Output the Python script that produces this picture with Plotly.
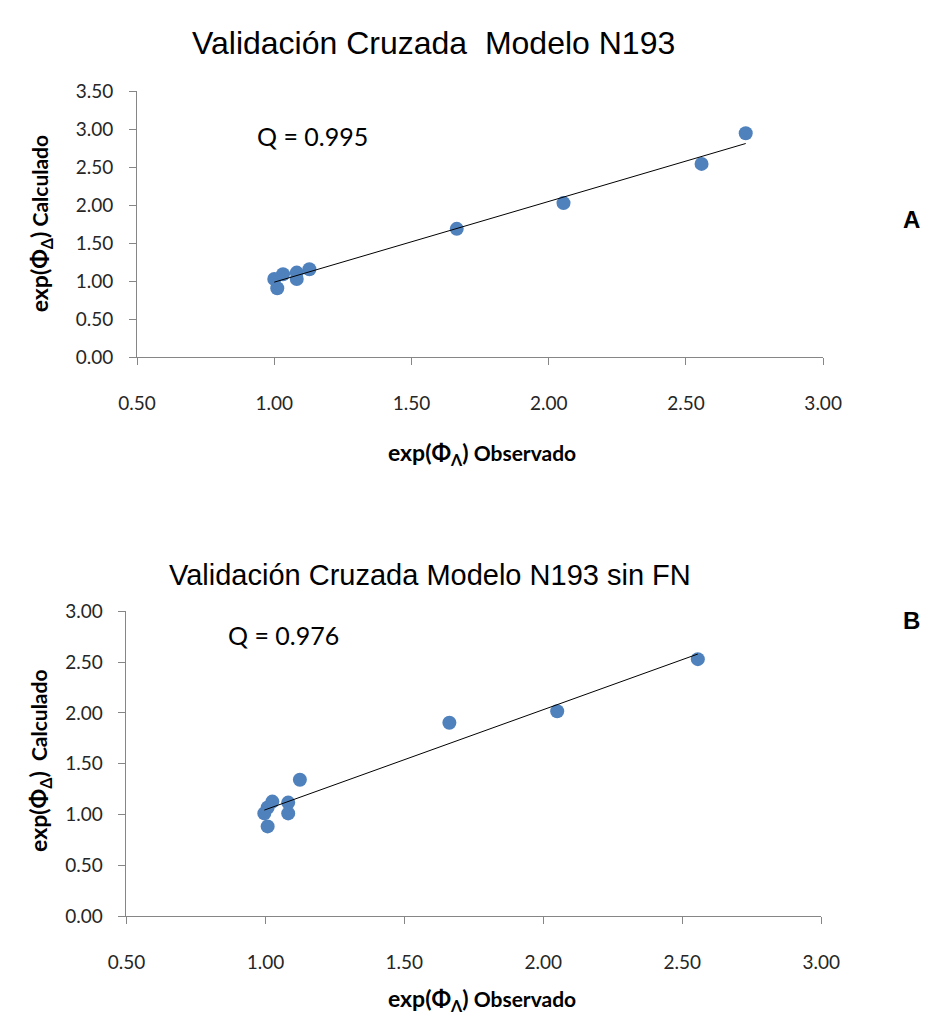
import numpy as np
import plotly.graph_objects as go

# ---- data ----
obs_A = [2.718, 2.557, 2.054, 1.665, 1.128, 1.082, 1.082, 1.032, 1.000, 1.011]
calc_A = [2.947, 2.543, 2.027, 1.688, 1.156, 1.112, 1.027, 1.091, 1.027, 0.906]
obs_B = [2.556, 2.050, 1.662, 1.124, 1.082, 1.082, 1.025, 1.008, 0.996, 1.008]
calc_B = [2.529, 2.016, 1.904, 1.343, 1.118, 1.012, 1.128, 1.070, 1.012, 0.884]
q_A = "Q = 0.995"
q_B = "Q = 0.976"
title_A = "Validación Cruzada\u00a0 Modelo N193"
title_B = "Validación Cruzada Modelo N193 sin FN"
ticks_x = [0.5, 1.0, 1.5, 2.0, 2.5, 3.0]

W, H = 940, 1026
BLUE = "#4F81BD"
TICKFONT = dict(family="Lato, 'Noto Sans', sans-serif", size=19, color="#262626")

fig = go.Figure()

def add_panel(obs, calc, xa, ya):
    fig.add_trace(go.Scatter(x=obs, y=calc, mode="markers", xaxis=xa, yaxis=ya,
                             marker=dict(color=BLUE, size=14, line=dict(width=0)),
                             showlegend=False, hoverinfo="skip"))
    m, b = np.polyfit(obs, calc, 1)
    xs = np.array([min(obs), max(obs)])
    fig.add_trace(go.Scatter(x=xs, y=m * xs + b, mode="lines", xaxis=xa, yaxis=ya,
                             line=dict(color="black", width=1),
                             showlegend=False, hoverinfo="skip"))

add_panel(obs_A, calc_A, "x", "y")
add_panel(obs_B, calc_B, "x2", "y2")

def px_x(p):
    return p / W

def px_y(p):
    return 1 - p / H

axis_common = dict(showline=True, linecolor="#868686", linewidth=1, showgrid=False,
                   zeroline=False, ticks="outside", tickcolor="#868686", ticklen=7,
                   tickformat=".2f", tickfont=TICKFONT, mirror=False)

fig.update_layout(
    width=W, height=H, margin=dict(l=0, r=0, t=0, b=0),
    paper_bgcolor="white", plot_bgcolor="white",
    xaxis=dict(domain=[px_x(123), px_x(838)], range=[0.5, 3.0], tickvals=ticks_x,
               anchor="y", ticklabelstandoff=22, **axis_common),
    yaxis=dict(domain=[px_y(353), px_y(81)], range=[0, 3.5], dtick=0.5,
               anchor="x", ticklabelstandoff=12, **axis_common),
    xaxis2=dict(domain=[px_x(112), px_x(836)], range=[0.5, 3.0], tickvals=ticks_x,
                anchor="y2", ticklabelstandoff=22, **axis_common),
    yaxis2=dict(domain=[px_y(925), px_y(613)], range=[0, 3.0], dtick=0.5,
                anchor="x2", ticklabelstandoff=12, **axis_common),
)

ann = []
def A(text, x, y, size, family="Liberation Sans, Arial, sans-serif", angle=0,
      xanchor="center", color="black"):
    ann.append(dict(text=text, x=px_x(x), y=px_y(y), xref="paper", yref="paper",
                    showarrow=False, xanchor=xanchor, yanchor="middle",
                    textangle=angle, font=dict(family=family, size=size, color=color)))

# titles
A(title_A, 432, 32, 32)
A(title_B, 428, 576, 29)
# Q labels
A(q_A, 246, 127, 25, family="Lato, 'Noto Sans', sans-serif", xanchor="left")
A(q_B, 216, 637, 25, family="Lato, 'Noto Sans', sans-serif", xanchor="left")
# panel letters
A("<b>A</b>", 930, 212, 24)
A("<b>B</b>", 930, 622, 24)
# axis titles
LAB = "Lato, 'Noto Sans', sans-serif"
ytitle = "<b><span style='font-size:23px'>exp(Φ<sub>Δ</sub>)</span> Calculado</b>"
ytitle_B = "<b><span style='font-size:23px'>exp(Φ<sub>Δ</sub>)</span>\u00a0 Calculado</b>"
xtitle = "<b><span style='font-size:23px'>exp(Φ<sub>Λ</sub>)</span> Observado</b>"
A(ytitle, 22, 217, 21, family=LAB, angle=-90)
A(ytitle_B, 22, 766, 21, family=LAB, angle=-90)
A(xtitle, 483, 452, 21, family=LAB)
A(xtitle, 483, 1010, 21, family=LAB)

fig.update_layout(annotations=ann)
fig.write_html("out.html")
